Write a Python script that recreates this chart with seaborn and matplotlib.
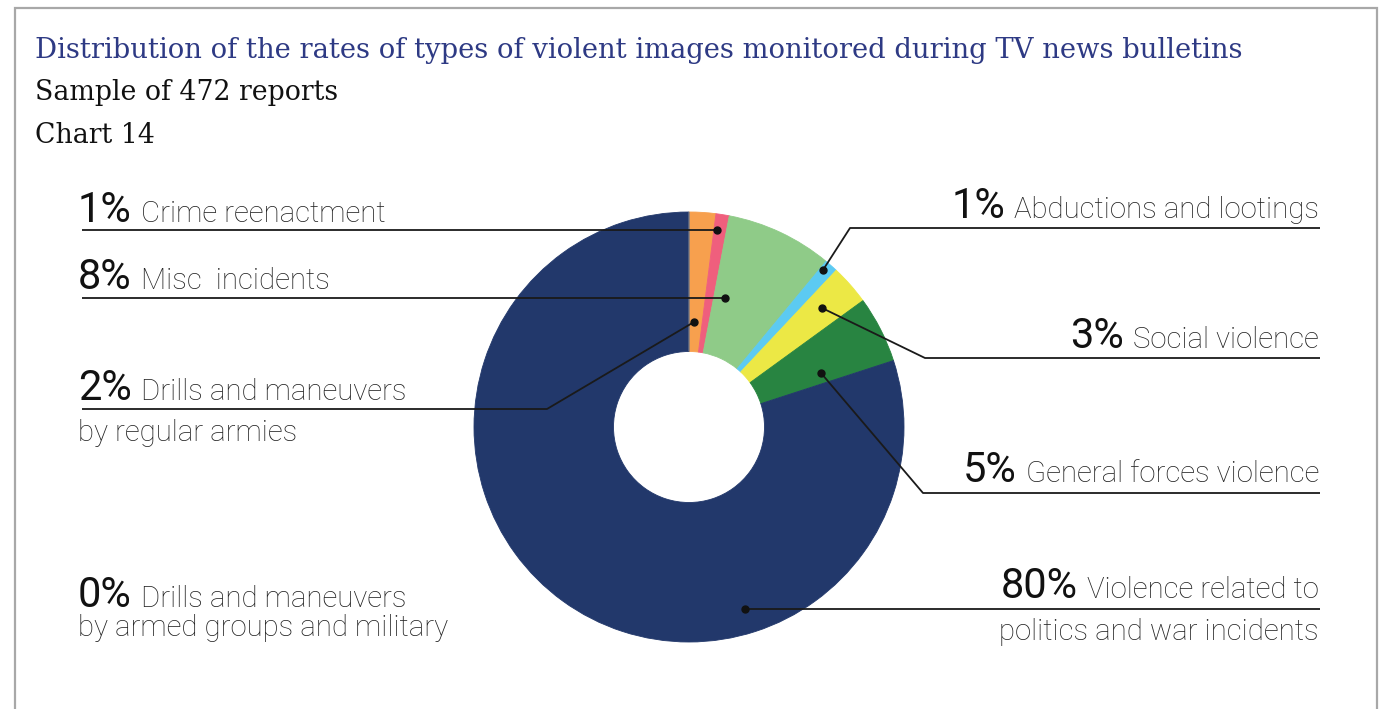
import matplotlib
matplotlib.use("Agg")
import matplotlib.pyplot as plt
import seaborn as sns

# ---- data -------------------------------------------------------------
categories = [
    "Drills and maneuvers by regular armies",
    "Crime reenactment",
    "Misc  incidents",
    "Abductions and lootings",
    "Social violence",
    "General forces violence",
    "Violence related to politics and war incidents",
    "Drills and maneuvers by armed groups and military",
]
shares = [2, 1, 8, 1, 3, 5, 80, 0]
colors = ["#f7a04e", "#ef5f7d", "#8fcb88", "#5ccaf2", "#ece845",
          "#288441", "#22386b", "#9a9a9a"]
label_first = ["Drills and maneuvers", "Crime reenactment", "Misc  incidents",
               "Abductions and lootings", "Social violence",
               "General forces violence", "Violence related to",
               "Drills and maneuvers"]
label_second = ["by regular armies", "", "", "", "", "",
                "politics and war incidents", "by armed groups and military"]

title = "Distribution of the rates of types of violent images monitored during TV news bulletins"
subtitle = "Sample of 472 reports"
chart_no = "Chart 14"

# ---- layout (pixel space, y measured from the top) -------------------
W, H = 1382, 709
CX, CY = 689, 427
R_OUT, R_IN = 215, 75.5
LEFT_X, RIGHT_X = 78, 1319
LINE_L, LINE_R = 82, 1320

# side, first baseline, second baseline, leader path (label end -> dot)
layout = [
    ("left", 400, 441, [(LINE_L, 409), (547, 409), (694, 322)]),
    ("left", 222, None, [(LINE_L, 230), (717, 230)]),
    ("left", 289, None, [(LINE_L, 298), (725, 298)]),
    ("right", 218, None, [(LINE_R, 228), (850, 228), (823, 270)]),
    ("right", 348, None, [(LINE_R, 358), (925, 358), (822, 308)]),
    ("right", 482, None, [(LINE_R, 493), (923, 493), (821, 373)]),
    ("right", 598, 640, [(LINE_R, 609), (745, 609)]),
    ("left", 607, 636, None),
]

sns.set_theme(style="white")
plt.rcParams["font.family"] = ["Roboto", "DejaVu Sans"]


def fy(y):
    return H - y


fig = plt.figure(figsize=(W / 100, H / 100), dpi=100)
fig.patch.set_facecolor("white")
ax = fig.add_axes([0, 0, 1, 1])

wedges, _ = ax.pie(
    shares, colors=colors, startangle=90, counterclock=False,
    radius=R_OUT, center=(CX, fy(CY)),
    wedgeprops=dict(width=R_OUT - R_IN, linewidth=0.6),
)
for w in wedges:
    w.set_edgecolor(w.get_facecolor())

ax.set_xlim(0, W)
ax.set_ylim(0, H)
ax.set_aspect("auto")
ax.axis("off")

renderer = fig.canvas.get_renderer()


def text_width(t):
    return t.get_window_extent(renderer).width


def fitted_text(x, y, s, target, **kw):
    t = ax.text(x, fy(y), s, va="baseline", ha="left", fontsize=20, **kw)
    t.set_fontsize(20 * target / text_width(t))
    return t


# frame round the chart
ax.plot([15, 15, 1377, 1377], [fy(H + 5), fy(8), fy(8), fy(H + 5)],
        color="#a8a8a8", lw=1.6, clip_on=False, solid_joinstyle="miter")

# heading
fitted_text(35, 58, title, 1205, family="DejaVu Serif", color="#2e3a84")
t_sub = fitted_text(35, 100, subtitle, 302, family="DejaVu Serif", color="#111111")
ax.text(35, fy(143), chart_no, va="baseline", ha="left",
        fontsize=t_sub.get_fontsize(), family="DejaVu Serif", color="#111111")

PCT_SIZE = 30
LAB_SIZE = 21.2
GAP = 9
pct_kw = dict(family="Roboto", fontsize=PCT_SIZE, color="#111111", va="baseline")
lab_kw = dict(family="Roboto", fontweight="light", fontsize=LAB_SIZE,
              color="#222222", va="baseline")

for val, first, second, (side, b1, b2, path) in zip(
        shares, label_first, label_second, layout):
    pct = f"{val}%"
    if side == "left":
        tp = ax.text(LEFT_X, fy(b1), pct, ha="left", **pct_kw)
        ax.text(LEFT_X + text_width(tp) + GAP, fy(b1), first, ha="left", **lab_kw)
        if second:
            ax.text(LEFT_X, fy(b2), second, ha="left", **lab_kw)
    else:
        tl = ax.text(RIGHT_X, fy(b1), first, ha="right", **lab_kw)
        ax.text(RIGHT_X - text_width(tl) - GAP, fy(b1), pct, ha="right", **pct_kw)
        if second:
            ax.text(RIGHT_X, fy(b2), second, ha="right", **lab_kw)
    if path:
        xs = [p[0] for p in path]
        ys = [fy(p[1]) for p in path]
        ax.plot(xs, ys, color="#1a1a1a", lw=1.3, solid_capstyle="butt")
        ax.plot(xs[-1], ys[-1], "o", ms=5, color="#111111")

fig.savefig("out.png", dpi=100, facecolor="white")
